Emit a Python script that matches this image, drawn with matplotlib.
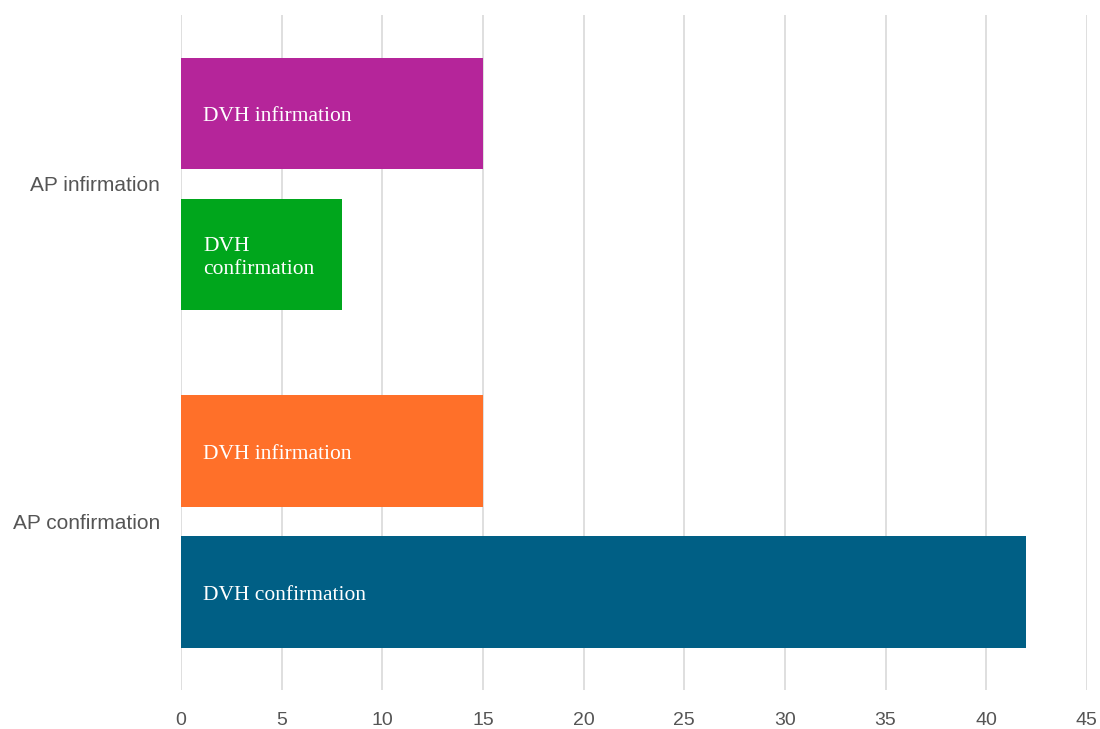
import matplotlib
matplotlib.use("Agg")
import matplotlib.pyplot as plt
import numpy as np

categories = ["AP confirmation", "AP infirmation"]
dvh_infirmation = [15, 15]
dvh_confirmation = [42, 8]
infirmation_colors = ["#FF7029", "#B5259A"]
confirmation_colors = ["#005F85", "#00A61C"]
infirmation_labels = ["DVH infirmation", "DVH infirmation"]
confirmation_labels = ["DVH confirmation", "DVH\nconfirmation"]
xticks = [0, 5, 10, 15, 20, 25, 30, 35, 40, 45]

fig = plt.figure(figsize=(11, 7.29), dpi=100)
ax = fig.add_axes([0.1645, 0.0535, 0.8235, 0.9255])

y = np.arange(len(categories))
h = 0.331
off = 0.2086

b1 = ax.barh(y + off, dvh_infirmation, height=h, color=infirmation_colors, zorder=3)
b2 = ax.barh(y - off, dvh_confirmation, height=h, color=confirmation_colors, zorder=3)

for bars, labels in ((b1, infirmation_labels), (b2, confirmation_labels)):
    for rect, lab in zip(bars, labels):
        cy = rect.get_y() + rect.get_height() / 2 - 0.01
        ax.text(rect.get_x() + 1.1, cy, lab, color="white", ha="left",
                va="center", fontsize=15.5, family="Liberation Serif",
                linespacing=1.3, zorder=4)

ax.set_xlim(0, 45)
ax.set_ylim(-0.5, 1.5)
ax.set_xticks(xticks)
ax.set_yticks(y)
ax.set_yticklabels(categories)
ax.grid(axis="x", color="#D9D9D9", linewidth=1.2, zorder=0)
ax.grid(axis="y", visible=False)
for s in ax.spines.values():
    s.set_visible(False)
ax.tick_params(axis="both", length=0, colors="#555555")
ax.tick_params(axis="x", pad=16, labelsize=14)
ax.tick_params(axis="y", pad=15, labelsize=15)
for lab in ax.get_xticklabels() + ax.get_yticklabels():
    lab.set_family("Liberation Sans")

fig.savefig("out.png", dpi=100)
